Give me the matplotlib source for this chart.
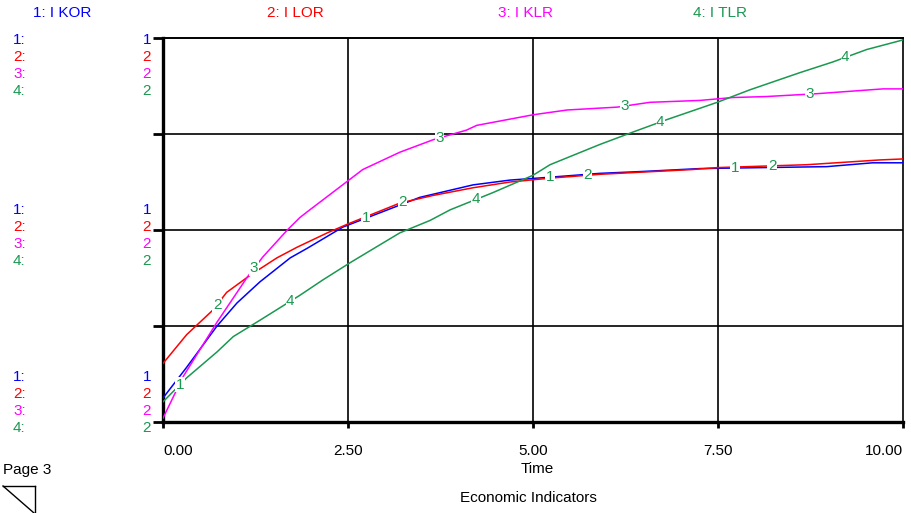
import matplotlib
matplotlib.use("Agg")
import numpy as np
import matplotlib.pyplot as plt
from matplotlib.lines import Line2D

plt.rcParams['font.family'] = ['Liberation Sans', 'DejaVu Sans']

# series values (y in grid units, 0 = bottom, 4 = top)
t_kor = [0.0, 0.32, 0.73, 1.0, 1.31, 1.72, 1.95, 2.43, 3.47, 4.19, 4.69, 5.23, 5.9, 6.49, 7.26, 8.97, 9.59, 10.0]
i_kor = [0.25, 0.57, 1.0, 1.24, 1.46, 1.71, 1.81, 2.03, 2.34, 2.47, 2.52, 2.55, 2.59, 2.61, 2.64, 2.66, 2.70, 2.70]

t_lor = [0.0, 0.32, 0.68, 0.86, 1.18, 1.54, 1.81, 2.22, 2.49, 3.2, 3.65, 4.19, 4.69, 5.23, 5.9, 7.16, 7.49, 8.7, 9.69, 10.0]
i_lor = [0.61, 0.91, 1.17, 1.35, 1.53, 1.71, 1.82, 1.97, 2.06, 2.28, 2.36, 2.44, 2.5, 2.54, 2.58, 2.63, 2.65, 2.68, 2.73, 2.74]

t_klr = [0.0, 0.27, 0.73, 1.14, 1.35, 1.68, 1.85, 1.95, 2.7, 3.2, 3.65, 4.1, 4.24, 5.0, 5.46, 6.14, 6.58, 7.26, 7.7, 8.15, 8.84, 9.73, 10.0]
i_klr = [0.04, 0.47, 1.04, 1.51, 1.72, 2.0, 2.13, 2.19, 2.63, 2.81, 2.94, 3.04, 3.09, 3.2, 3.25, 3.28, 3.33, 3.35, 3.38, 3.39, 3.42, 3.47, 3.47]

t_tlr = [0.0, 0.32, 0.73, 0.95, 1.31, 1.85, 2.16, 2.53, 3.2, 3.61, 3.88, 4.46, 5.0, 5.23, 5.9, 6.35, 6.81, 7.49, 7.93, 8.61, 9.05, 9.51, 10.0]
i_tlr = [0.21, 0.46, 0.73, 0.89, 1.06, 1.32, 1.48, 1.66, 1.97, 2.1, 2.21, 2.39, 2.57, 2.68, 2.89, 3.02, 3.15, 3.33, 3.46, 3.64, 3.75, 3.88, 3.98]

series_names = ["1: I KOR", "2: I LOR", "3: I KLR", "4: I TLR"]
colors = ["#0000ff", "#ff0000", "#ff00ff", "#1a9850"]
scale_labels = ["1", "2", "2", "2"]

# curve number labels: (time, text, series the label sits on)
curve_marks = [(0.23, "1", 3), (0.73, "2", 1), (1.23, "3", 2), (1.72, "4", 3),
               (2.74, "1", 0), (3.24, "2", 1), (3.74, "3", 2), (4.23, "4", 3),
               (5.23, "1", 0), (5.74, "2", 1), (6.24, "3", 2), (6.72, "4", 3),
               (7.73, "1", 0), (8.23, "2", 1), (8.74, "3", 2), (9.22, "4", 3)]

x_ticks = [0.0, 2.5, 5.0, 7.5, 10.0]
x_tick_labels = ["0.00", "2.50", "5.00", "7.50", "10.00"]

FS = 11
W, H = 912, 513
fig = plt.figure(figsize=(W / 100, H / 100), dpi=100)
ax = fig.add_axes([163 / W, (H - 422) / H, (903 - 163) / W, (422 - 38) / H])

data = [(t_kor, i_kor), (t_lor, i_lor), (t_klr, i_klr), (t_tlr, i_tlr)]
for (tt, yy), c in zip(data, colors):
    ax.plot(tt, yy, color=c, lw=1.1, zorder=3)

for tm, txt, k in curve_marks:
    tt, yy = data[k]
    yv = np.interp(tm, tt, yy)
    ax.text(tm, yv, txt, color="#1a9850", fontsize=FS, ha="center", va="center", zorder=4,
            bbox=dict(facecolor="white", edgecolor="none", pad=0.2))

ax.set_xlim(0, 10)
ax.set_ylim(0, 4)
for gx in [2.5, 5.0, 7.5]:
    ax.axvline(gx, color="black", lw=1.2, zorder=1)
for gy in [1, 2, 3]:
    ax.axhline(gy, color="black", lw=1.2, zorder=1)

ax.spines['left'].set_linewidth(2.4)
ax.spines['bottom'].set_linewidth(2.4)
ax.spines['top'].set_linewidth(1.4)
ax.spines['right'].set_linewidth(1.2)
ax.set_yticks([0, 1, 2, 3, 4])
ax.set_yticklabels([])
ax.tick_params(axis='y', length=7, width=2, color="black")
ax.set_xticks(x_ticks)
ax.set_xticklabels(x_tick_labels, fontsize=FS)
ax.tick_params(axis='x', length=4, width=2, pad=12)
lbls = ax.get_xticklabels()
lbls[0].set_ha("left")
lbls[-1].set_ha("right")

fig.text(537 / W, 1 - 469 / H, "Time", fontsize=FS, ha="center", va="center")

# header with series names
for name, c, px in zip(series_names, colors, [62, 295, 525, 720]):
    fig.text(px / W, 1 - 13 / H, name, color=c, fontsize=FS, ha="center", va="center")

# scale labels on the left
for top in [40, 210, 377]:
    for i, c in enumerate(colors):
        yy = 1 - (top + i * 17) / H
        fig.text(13 / W, yy, f"{i + 1}:", color=c, fontsize=FS, ha="left", va="center")
        fig.text(151 / W, yy, scale_labels[i], color=c, fontsize=FS, ha="right", va="center")

fig.text(3 / W, 1 - 470 / H, "Page 3", fontsize=FS, ha="left", va="center")
fig.text(528 / W, 1 - 498 / H, "Economic Indicators", fontsize=FS, ha="center", va="center")

# page turn icon
for xs, ys in [([3, 35], [486, 486]), ([35, 35], [486, 513]), ([3, 34], [486, 513])]:
    fig.add_artist(Line2D([x / W for x in xs], [1 - y / H for y in ys],
                          color="black", lw=1.0))

fig.savefig("out.png", dpi=100)
